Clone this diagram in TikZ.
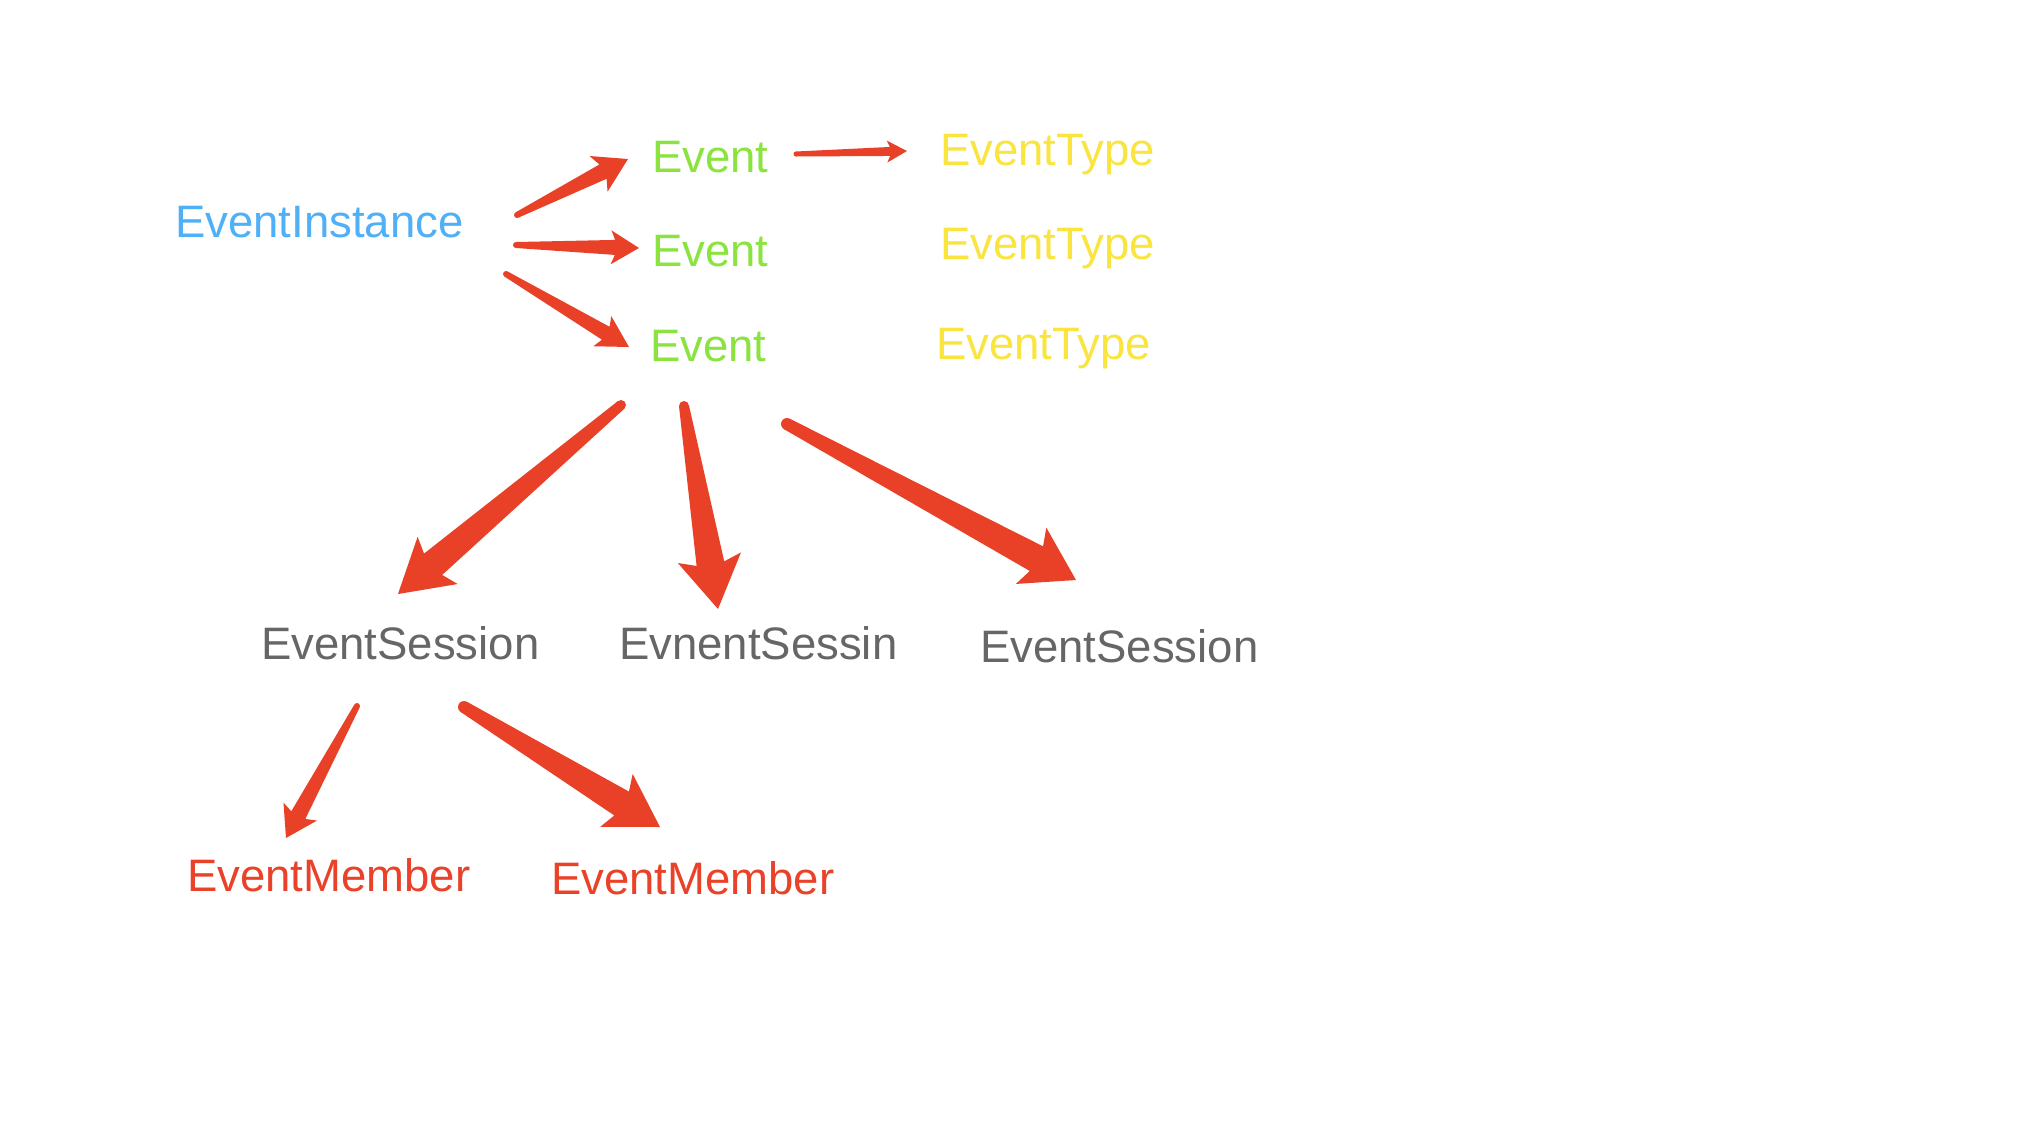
\documentclass[tikz,border=0pt]{standalone}
\usepackage{fontspec}
\setmainfont{Liberation Sans}
\usetikzlibrary{calc}
\definecolor{cblue}{HTML}{4FAFF7}
\definecolor{cgreen}{HTML}{8BE33F}
\definecolor{cyellow}{HTML}{FAE53E}
\definecolor{cgray}{HTML}{666666}
\definecolor{cred}{HTML}{EA4129}
\definecolor{arrowred}{HTML}{E94128}
\newcommand{\skarrow}[7]{% #1 tail, #2 tip, #3 wt, #4 ws, #5 wh, #6 L, #7 a
  \coordinate (#1-q) at ($(#2)!#7!(#1)$);
  \coordinate (#1-b) at ($(#2)!#6!(#1)$);
  \fill[arrowred] ($(#1)!#3!90:(#2)$) -- ($(#1-q)!#4!90:(#2)$) -- ($(#1-b)!#5!90:(#2)$) -- (#2) -- ($(#1-b)!#5!-90:(#2)$) -- ($(#1-q)!#4!-90:(#2)$) -- ($(#1)!#3!-90:(#2)$) -- cycle;
  \fill[arrowred] (#1) circle[radius=#3];
}
\begin{document}
\begin{tikzpicture}[x=1pt,y=-1pt,
  lbl/.style={anchor=base west,inner sep=0pt,font=\fontsize{45.5}{55}\selectfont}]
\useasboundingbox (0,0) rectangle (2034,1122);
\fill[white] (0,0) rectangle (2034,1122);
% labels
\node[lbl,text=cblue] (inst) at (175,237) {EventInstance};
\node[lbl,text=cgreen] (ev1) at (652,172) {Event};
\node[lbl,text=cgreen] (ev2) at (652,266) {Event};
\node[lbl,text=cgreen] (ev3) at (650,361) {Event};
\node[lbl,text=cyellow] (ty1) at (940,165) {EventType};
\node[lbl,text=cyellow] (ty2) at (940,259) {EventType};
\node[lbl,text=cyellow] (ty3) at (936,359) {EventType};
\node[lbl,text=cgray] (se1) at (261,659) {EventSession};
\node[lbl,text=cgray] (se2) at (619,659) {EvnentSessin};
\node[lbl,text=cgray] (se3) at (980,662) {EventSession};
\node[lbl,text=cred] (me1) at (187,891) {EventMember};
\node[lbl,text=cred] (me2) at (551,894) {EventMember};
% arrow end points
\coordinate (t1) at (517,215); \coordinate (p1) at (628,159);
\coordinate (t2) at (516,245); \coordinate (p2) at (639,248);
\coordinate (t3) at (506,274); \coordinate (p3) at (629,347);
\coordinate (t4) at (796,154); \coordinate (p4) at (907,151);
\coordinate (t5) at (621,405); \coordinate (p5) at (398,594);
\coordinate (t6) at (684,406); \coordinate (p6) at (718,609);
\coordinate (t7) at (787,424); \coordinate (p7) at (1076,580);
\coordinate (t8) at (357,706); \coordinate (p8) at (286,838);
\coordinate (t9) at (464,707); \coordinate (p9) at (660,827);
% arrows
\skarrow{t1}{p1}{3pt}{8pt}{20pt}{33pt}{28pt}
\skarrow{t2}{p2}{3pt}{7.5pt}{17pt}{28pt}{24pt}
\skarrow{t3}{p3}{3pt}{7.5pt}{17.5pt}{31pt}{27pt}
\skarrow{t4}{p4}{2.5pt}{4.5pt}{11pt}{20pt}{17pt}
\skarrow{t5}{p5}{5pt}{14pt}{31pt}{52pt}{46pt}
\skarrow{t6}{p6}{5pt}{14pt}{32pt}{52pt}{46pt}
\skarrow{t7}{p7}{6pt}{14pt}{32pt}{51pt}{45pt}
\skarrow{t8}{p8}{3pt}{8pt}{19pt}{30pt}{26pt}
\skarrow{t9}{p9}{6pt}{14pt}{31pt}{51pt}{45pt}
\end{tikzpicture}
\end{document}
